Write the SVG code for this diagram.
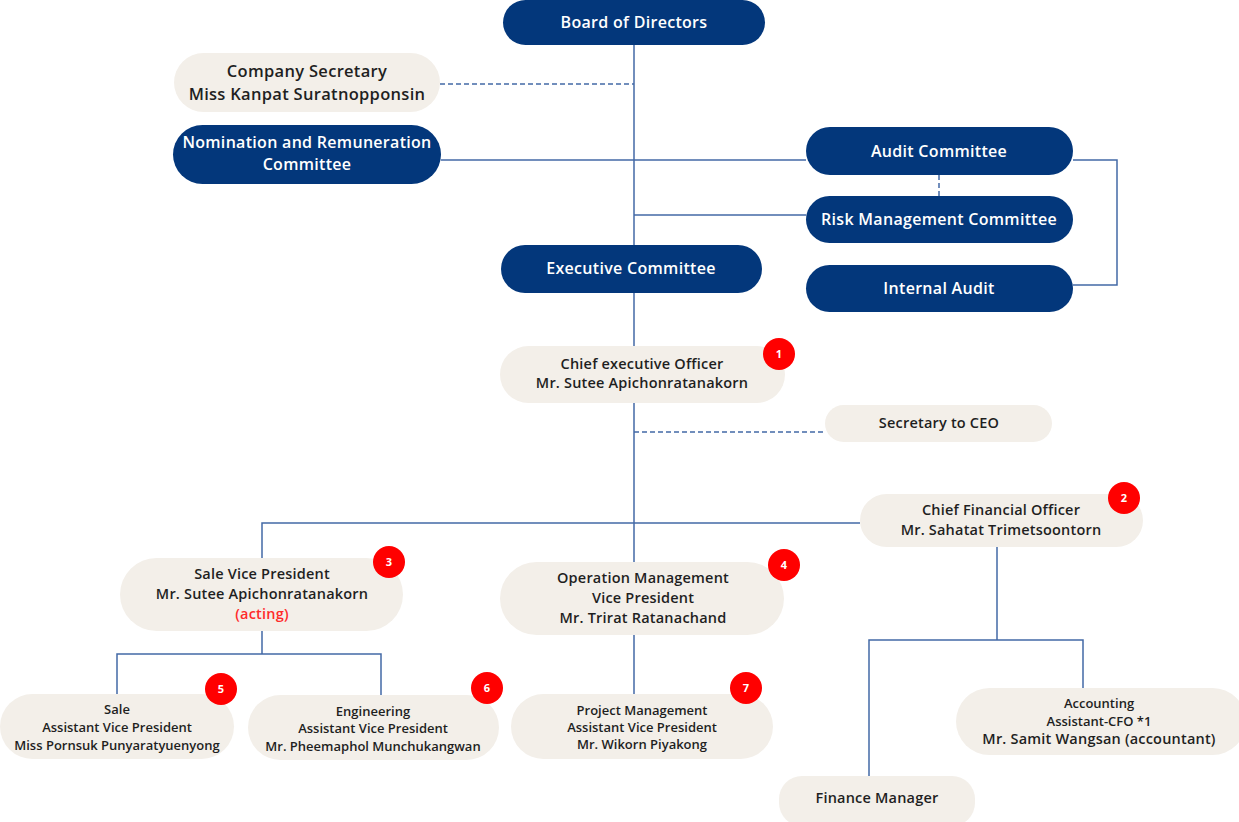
<svg xmlns="http://www.w3.org/2000/svg" width="1239" height="822" viewBox="0 0 1239 822">
  <style>
    .dark { fill: #03377b; }
    .light { fill: #f3efe9; }
    .tw { font-family: "Open Sans", "Noto Sans", sans-serif; fill: #ffffff; font-size: 16px; text-anchor: middle; font-weight: 600; letter-spacing: 0.3px; }
    .tb { font-family: "Open Sans", "Noto Sans", sans-serif; fill: #1f1f1f; font-size: 14.5px; text-anchor: middle; font-weight: 600; letter-spacing: 0.2px; }
    .tl { font-family: "Open Sans", "Noto Sans", sans-serif; fill: #1f1f1f; font-size: 16.5px; text-anchor: middle; font-weight: 600; letter-spacing: 0.3px; }
    .ts { font-family: "Open Sans", "Noto Sans", sans-serif; fill: #1f1f1f; font-size: 13px; text-anchor: middle; font-weight: 600; }
    .red { fill: #ff2a2a; }
    .badge { fill: #ff0000; }
    .bt { font-family: "Open Sans", "Noto Sans", sans-serif; fill: #ffffff; font-size: 11px; font-weight: 700; text-anchor: middle; }
    .ln { fill: none; stroke: #4369a6; stroke-width: 1.5; }
    .dash { fill: none; stroke: #4369a6; stroke-width: 1.5; stroke-dasharray: 5 3; }
  </style>

  <!-- connectors -->
  <g id="connectors">
    <path class="ln" d="M634 45 V562"/>
    <path class="dash" d="M440 84 H634"/>
    <path class="ln" d="M441 160 H806"/>
    <path class="ln" d="M634 215 H806"/>
    <path class="dash" d="M939 175 V196"/>
    <path class="ln" d="M1073 160 H1117 V285 H1073"/>
    <path class="dash" d="M634 432 H825"/>
    <path class="ln" d="M262 558 V523 H860"/>
    <path class="ln" d="M262 631 V654 M117 694 V654 H381 V695"/>
    <path class="ln" d="M634 635 V694"/>
    <path class="ln" d="M997 547 V640 M869 776 V640 H1083 V688"/>
  </g>

  <g id="board">
    <rect class="dark" x="503" y="0" width="262" height="45" rx="22.5"/>
    <text class="tw" x="634" y="28">Board of Directors</text>
  </g>

  <g id="company-secretary">
    <rect class="light" x="174" y="53" width="266" height="59" rx="29.5"/>
    <text class="tl" x="307" y="77">Company Secretary</text>
    <text class="tl" x="307" y="100">Miss Kanpat Suratnopponsin</text>
  </g>

  <g id="nomination">
    <rect class="dark" x="173" y="125" width="268" height="59" rx="29.5"/>
    <text class="tw" x="307" y="148">Nomination and Remuneration</text>
    <text class="tw" x="307" y="170">Committee</text>
  </g>

  <g id="audit-committee">
    <rect class="dark" x="806" y="127" width="267" height="48" rx="24"/>
    <text class="tw" x="939" y="157">Audit Committee</text>
  </g>

  <g id="risk-management">
    <rect class="dark" x="806" y="196" width="267" height="47" rx="23.5"/>
    <text class="tw" x="939" y="225">Risk Management Committee</text>
  </g>

  <g id="internal-audit">
    <rect class="dark" x="806" y="265" width="267" height="47" rx="23.5"/>
    <text class="tw" x="939" y="294">Internal Audit</text>
  </g>

  <g id="executive-committee">
    <rect class="dark" x="501" y="245" width="261" height="48" rx="24"/>
    <text class="tw" x="631" y="274">Executive Committee</text>
  </g>

  <g id="ceo">
    <rect class="light" x="500" y="346" width="285" height="57" rx="28.5"/>
    <text class="tb" x="642" y="369">Chief executive Officer</text>
    <text class="tb" x="642" y="388">Mr. Sutee Apichonratanakorn</text>
    <circle class="badge" cx="779" cy="354" r="16"/>
    <text class="bt" x="779" y="358">1</text>
  </g>

  <g id="secretary-ceo">
    <rect class="light" x="825" y="405" width="227" height="37" rx="18.5"/>
    <text class="tb" x="939" y="428">Secretary to CEO</text>
  </g>

  <g id="cfo">
    <rect class="light" x="860" y="494" width="283" height="53" rx="26.5"/>
    <text class="tb" x="1001" y="515">Chief Financial Officer</text>
    <text class="tb" x="1001" y="535">Mr. Sahatat Trimetsoontorn</text>
    <circle class="badge" cx="1124" cy="498" r="16"/>
    <text class="bt" x="1124" y="502">2</text>
  </g>

  <g id="sale-vp">
    <rect class="light" x="120" y="558" width="283" height="73" rx="36.5"/>
    <text class="tb" x="262" y="579">Sale Vice President</text>
    <text class="tb" x="262" y="599">Mr. Sutee Apichonratanakorn</text>
    <text class="tb red" x="262" y="619">(acting)</text>
    <circle class="badge" cx="389" cy="562" r="16"/>
    <text class="bt" x="389" y="566">3</text>
  </g>

  <g id="operation-vp">
    <rect class="light" x="500" y="562" width="284" height="73" rx="36.5"/>
    <text class="tb" x="643" y="583">Operation Management</text>
    <text class="tb" x="643" y="603">Vice President</text>
    <text class="tb" x="643" y="623">Mr. Trirat Ratanachand</text>
    <circle class="badge" cx="784" cy="565" r="16"/>
    <text class="bt" x="784" y="569">4</text>
  </g>

  <g id="sale-avp">
    <rect class="light" x="0" y="694" width="234" height="65" rx="32.5"/>
    <text class="ts" x="117" y="714">Sale</text>
    <text class="ts" x="117" y="732">Assistant Vice President</text>
    <text class="ts" x="117" y="750">Miss Pornsuk Punyaratyuenyong</text>
    <circle class="badge" cx="221" cy="689" r="16"/>
    <text class="bt" x="221" y="693">5</text>
  </g>

  <g id="engineering-avp">
    <rect class="light" x="248" y="695" width="251" height="65" rx="32.5"/>
    <text class="ts" x="373" y="716">Engineering</text>
    <text class="ts" x="373" y="733">Assistant Vice President</text>
    <text class="ts" x="373" y="751">Mr. Pheemaphol Munchukangwan</text>
    <circle class="badge" cx="487" cy="688" r="16"/>
    <text class="bt" x="487" y="692">6</text>
  </g>

  <g id="project-avp">
    <rect class="light" x="511" y="694" width="262" height="65" rx="32.5"/>
    <text class="ts" x="642" y="715">Project Management</text>
    <text class="ts" x="642" y="732">Assistant Vice President</text>
    <text class="ts" x="642" y="749">Mr. Wikorn Piyakong</text>
    <circle class="badge" cx="746" cy="688" r="16"/>
    <text class="bt" x="746" y="692">7</text>
  </g>

  <g id="accounting">
    <rect class="light" x="956" y="688" width="290" height="67" rx="33.5"/>
    <text class="ts" x="1099" y="708">Accounting</text>
    <text class="ts" x="1099" y="726">Assistant-CFO *1</text>
    <text class="tb" x="1099" y="744">Mr. Samit Wangsan (accountant)</text>
  </g>

  <g id="finance-manager">
    <rect class="light" x="779" y="776" width="196" height="50" rx="23"/>
    <text class="tb" x="877" y="803">Finance Manager</text>
  </g>
</svg>
